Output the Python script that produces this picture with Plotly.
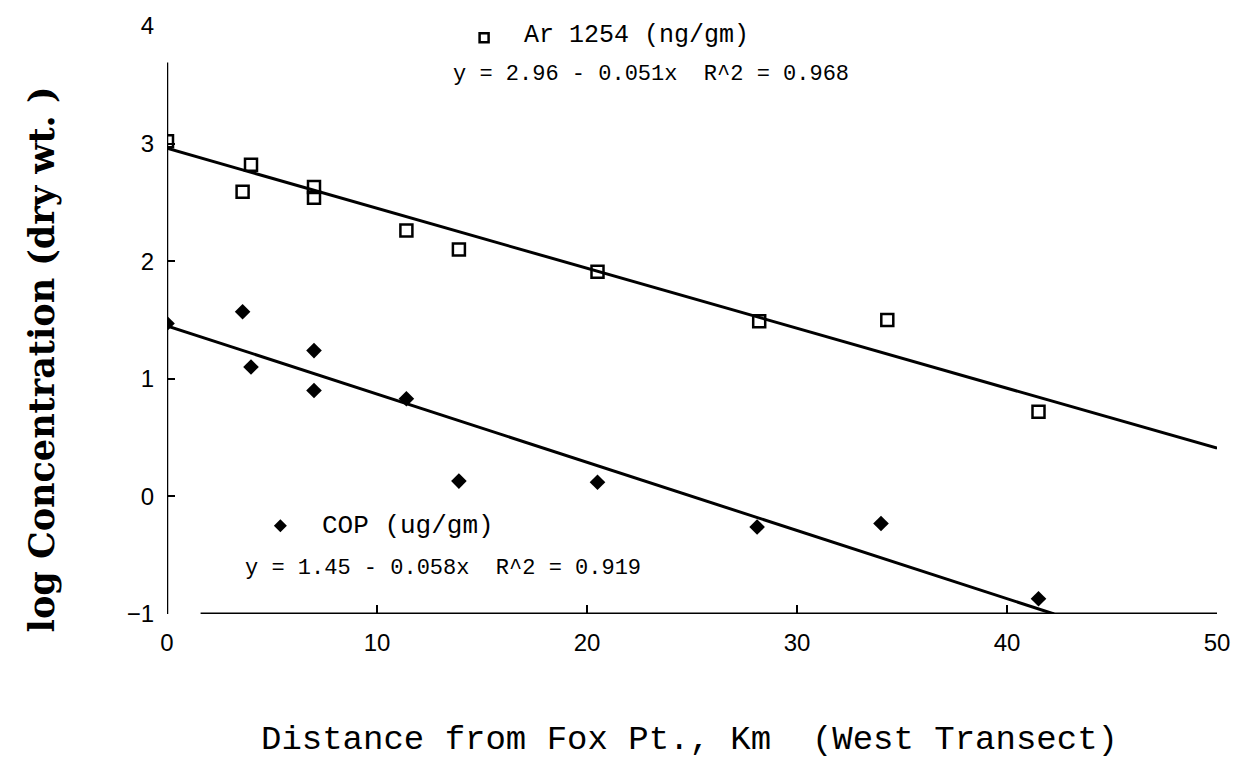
import plotly.graph_objects as go

# Stations along the west transect (km from Fox Pt.) and log concentrations
ar_km = [0, 3.6, 4.0, 7.0, 7.0, 11.4, 13.9, 20.5, 28.2, 34.3, 41.5]
ar_log = [3.02, 2.59, 2.82, 2.63, 2.54, 2.26, 2.10, 1.91, 1.49, 1.50, 0.72]

cop_km = [0, 3.6, 4.0, 7.0, 7.0, 11.4, 13.9, 20.5, 28.1, 34.0, 41.5]
cop_log = [1.47, 1.57, 1.10, 1.24, 0.90, 0.83, 0.13, 0.12, -0.26, -0.23, -0.87]

# Regression fits: intercept, slope, R^2
ar_fit = (2.96, -0.051, 0.968)
cop_fit = (1.45, -0.058, 0.919)

x_ticks = [0, 10, 20, 30, 40, 50]
y_ticks = [-1, 0, 1, 2, 3, 4]

X_MIN, X_MAX = 0, 50
Y_MIN, Y_MAX = -1, 4

MONO = "Liberation Mono"

fig = go.Figure()

# Fitted lines
ar_x = [X_MIN, X_MAX]
ar_y = [ar_fit[0] + ar_fit[1] * v for v in ar_x]
cop_end = (Y_MIN - cop_fit[0]) / cop_fit[1]
cop_x = [X_MIN, cop_end]
cop_y = [cop_fit[0] + cop_fit[1] * v for v in cop_x]

fig.add_trace(go.Scatter(x=ar_x, y=ar_y, mode="lines",
                         line=dict(color="black", width=3), showlegend=False))
fig.add_trace(go.Scatter(x=cop_x, y=cop_y, mode="lines",
                         line=dict(color="black", width=3), showlegend=False))

# Observations
fig.add_trace(go.Scatter(x=ar_km, y=ar_log, mode="markers",
                         marker=dict(symbol="square-open", size=12, color="black",
                                     line=dict(width=2.5, color="black")),
                         showlegend=False))
fig.add_trace(go.Scatter(x=cop_km, y=cop_log, mode="markers",
                         marker=dict(symbol="diamond", size=12, color="black"),
                         showlegend=False))

# Series key markers
fig.add_trace(go.Scatter(x=[15.1], y=[3.9], mode="markers",
                         marker=dict(symbol="square-open", size=9, color="black",
                                     line=dict(width=2.5, color="black")),
                         showlegend=False, cliponaxis=False))
fig.add_trace(go.Scatter(x=[5.4], y=[-0.25], mode="markers",
                         marker=dict(symbol="diamond", size=10, color="black"),
                         showlegend=False, cliponaxis=False))

def eq_text(fit):
    return f"y = {fit[0]:.2f} - {abs(fit[1]):.3f}x  R^2 = {fit[2]:.3f}"

annotations = [
    dict(x=16.9, y=3.92, text="Ar 1254 (ng/gm)", xanchor="left", yanchor="middle",
         font=dict(family=MONO, size=25, color="black")),
    dict(x=13.5, y=3.59, text=eq_text(ar_fit), xanchor="left", yanchor="middle",
         font=dict(family=MONO, size=22, color="black")),
    dict(x=7.3, y=-0.25, text="COP (ug/gm)", xanchor="left", yanchor="middle",
         font=dict(family=MONO, size=26, color="black")),
    dict(x=3.6, y=-0.61, text=eq_text(cop_fit), xanchor="left", yanchor="middle",
         font=dict(family=MONO, size=22, color="black")),
]
for a in annotations:
    a.update(xref="x", yref="y", showarrow=False)

# Axis titles
annotations.append(dict(xref="paper", yref="paper", x=0.498, y=-0.215,
                        text="Distance from Fox Pt., Km  (West Transect)",
                        showarrow=False, xanchor="center", yanchor="middle",
                        font=dict(family=MONO, size=34, color="black")))
annotations.append(dict(xref="paper", yref="paper", x=-0.12, y=0.433,
                        text="log Concentration (dry wt. )", textangle=-90,
                        showarrow=False, xanchor="center", yanchor="middle",
                        font=dict(family="DejaVu Serif", size=35, weight="bold",
                                  color="black")))

# Axis lines
shapes = [
    dict(type="line", xref="x", yref="y", x0=0, x1=0, y0=Y_MIN, y1=3.69,
         line=dict(color="black", width=2.5)),
    dict(type="line", xref="x", yref="y", x0=1.6, x1=X_MAX, y0=Y_MIN, y1=Y_MIN,
         line=dict(color="black", width=3)),
]

fig.update_layout(
    width=1244, height=781,
    margin=dict(l=167, r=27, t=20, b=167),
    paper_bgcolor="white", plot_bgcolor="white",
    annotations=annotations, shapes=shapes,
    showlegend=False,
)
fig.update_xaxes(range=[X_MIN, X_MAX], tickvals=x_ticks, ticks="inside", ticklen=9,
                 tickwidth=2, tickcolor="black", showgrid=False, zeroline=False,
                 showline=False, ticklabelstandoff=12,
                 tickfont=dict(family="Liberation Sans", size=24, color="black"))
fig.update_yaxes(range=[Y_MIN, Y_MAX], tickvals=y_ticks, ticks="inside", ticklen=8,
                 tickwidth=2, tickcolor="black", showgrid=False, zeroline=False,
                 showline=False, ticklabelstandoff=12,
                 tickfont=dict(family="Liberation Sans", size=24, color="black"))

fig.write_html("out.html")
